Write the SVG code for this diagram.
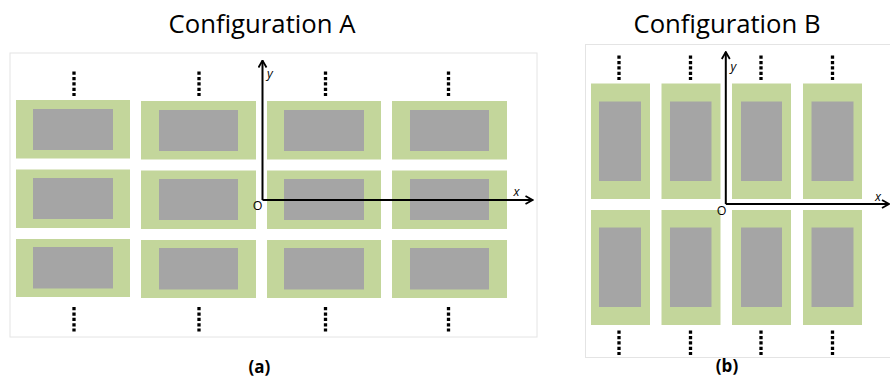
<svg xmlns="http://www.w3.org/2000/svg" width="890" height="378" viewBox="0 0 890 378">
<defs>
<style>
.frame{fill:#fff;stroke:#e4e4e4;stroke-width:1}
.cell{fill:#c3d69b}
.chip{fill:#a5a5a5}
.dots{stroke:#000;stroke-width:3.3;stroke-dasharray:3.3 2.1;fill:none}
.axis{stroke:#000;stroke-width:2;fill:none}
.title{font-family:"Open Sans","Liberation Sans",sans-serif;font-size:25px;fill:#000}
.lab{font-family:"Open Sans","Liberation Sans",sans-serif;font-size:12.5px;fill:#000}
.it{font-style:italic}
.cap{font-family:"Open Sans","Liberation Sans",sans-serif;font-size:17px;font-weight:bold;fill:#000}
</style>
<marker id="arr" viewBox="0 0 10 10" refX="9" refY="5" markerWidth="10" markerHeight="10" markerUnits="userSpaceOnUse" orient="auto">
<path d="M2,1 L9,5 L2,9" fill="none" stroke="#000" stroke-width="1.8"/>
</marker>
</defs>
<rect width="890" height="378" fill="#fff"/>

<text class="title" x="262" y="33" text-anchor="middle" textLength="187" lengthAdjust="spacingAndGlyphs">Configuration A</text>
<text class="title" x="727" y="33" text-anchor="middle" textLength="187" lengthAdjust="spacingAndGlyphs">Configuration B</text>

<rect class="frame" x="10" y="53" width="527" height="284"/>
<rect class="frame" x="585.5" y="44.5" width="310" height="313"/>

<g id="a-r1c1"><rect class="cell" x="16" y="100" width="114" height="58.5"/><rect class="chip" x="33" y="109" width="80" height="41"/></g>
<g id="a-r1c2"><rect class="cell" x="141" y="101" width="115" height="58.5"/><rect class="chip" x="159" y="110" width="79" height="41"/></g>
<g id="a-r1c3"><rect class="cell" x="267" y="101" width="114" height="58.5"/><rect class="chip" x="284" y="110" width="80" height="41"/></g>
<g id="a-r1c4"><rect class="cell" x="392" y="101" width="115" height="58.5"/><rect class="chip" x="410" y="110" width="79" height="41"/></g>
<g id="a-r2c1"><rect class="cell" x="16" y="169.5" width="114" height="58.5"/><rect class="chip" x="33" y="178" width="80" height="41"/></g>
<g id="a-r2c2"><rect class="cell" x="141" y="170.5" width="115" height="58.5"/><rect class="chip" x="159" y="179" width="79" height="41"/></g>
<g id="a-r2c3"><rect class="cell" x="267" y="170.5" width="114" height="58.5"/><rect class="chip" x="284" y="179" width="80" height="41"/></g>
<g id="a-r2c4"><rect class="cell" x="392" y="170.5" width="115" height="58.5"/><rect class="chip" x="410" y="179" width="79" height="41"/></g>
<g id="a-r3c1"><rect class="cell" x="16" y="239" width="114" height="58"/><rect class="chip" x="33" y="247" width="80" height="41.5"/></g>
<g id="a-r3c2"><rect class="cell" x="141" y="240" width="115" height="58"/><rect class="chip" x="159" y="248" width="79" height="41.5"/></g>
<g id="a-r3c3"><rect class="cell" x="267" y="240" width="114" height="58"/><rect class="chip" x="284" y="248" width="80" height="41.5"/></g>
<g id="a-r3c4"><rect class="cell" x="392" y="240" width="115" height="58"/><rect class="chip" x="410" y="248" width="79" height="41.5"/></g>

<g id="a-dots">
<path class="dots" d="M74,71.5 V96 M199,71.5 V96 M325.5,71.5 V96 M448.5,71.5 V96"/>
<path class="dots" d="M74,307 V331.5 M199,307 V331.5 M325.5,307 V331.5 M448.5,307 V331.5"/>
</g>

<g id="b-r1c1"><rect class="cell" x="591" y="83.5" width="59" height="115.5"/><rect class="chip" x="599" y="101.5" width="42" height="79.5"/></g>
<g id="b-r1c2"><rect class="cell" x="661.5" y="83.5" width="59" height="115.5"/><rect class="chip" x="670" y="101.5" width="41.5" height="79.5"/></g>
<g id="b-r1c3"><rect class="cell" x="732" y="83.5" width="59" height="115.5"/><rect class="chip" x="741" y="101.5" width="41" height="79.5"/></g>
<g id="b-r1c4"><rect class="cell" x="803" y="83.5" width="59" height="115.5"/><rect class="chip" x="811.5" y="101.5" width="42" height="79.5"/></g>
<g id="b-r2c1"><rect class="cell" x="591" y="210" width="59" height="115"/><rect class="chip" x="599" y="227.5" width="42" height="79.5"/></g>
<g id="b-r2c2"><rect class="cell" x="661.5" y="210" width="59" height="115"/><rect class="chip" x="670" y="227.5" width="41.5" height="79.5"/></g>
<g id="b-r2c3"><rect class="cell" x="732" y="210" width="59" height="115"/><rect class="chip" x="741" y="227.5" width="41" height="79.5"/></g>
<g id="b-r2c4"><rect class="cell" x="803" y="210" width="59" height="115"/><rect class="chip" x="811.5" y="227.5" width="42" height="79.5"/></g>

<g id="b-dots">
<path class="dots" d="M619,55.5 V80 M690.5,55.5 V80 M761,55.5 V80 M832.5,55.5 V80"/>
<path class="dots" d="M619,330.5 V355 M690.5,330.5 V355 M761,330.5 V355 M832.5,330.5 V355"/>
</g>

<g id="connectors">
<path class="axis" d="M262.5,200 V60.5" marker-end="url(#arr)"/>
<path class="axis" d="M262.5,200 H532.5" marker-end="url(#arr)"/>
<path class="axis" d="M725.8,204 V52" marker-end="url(#arr)"/>
<path class="axis" d="M725.8,204 H889" marker-end="url(#arr)"/>
</g>

<g id="labels">
<text class="lab it" x="267" y="77.5">y</text>
<text class="lab it" x="513.5" y="195.5">x</text>
<text class="lab" x="257.5" y="210" text-anchor="middle">O</text>
<text class="lab it" x="730.5" y="71">y</text>
<text class="lab it" x="875" y="200.5">x</text>
<text class="lab" x="721.5" y="215" text-anchor="middle">O</text>
<text class="cap" x="259.5" y="373" text-anchor="middle">(a)</text>
<text class="cap" x="727" y="372" text-anchor="middle">(b)</text>
</g>
</svg>
